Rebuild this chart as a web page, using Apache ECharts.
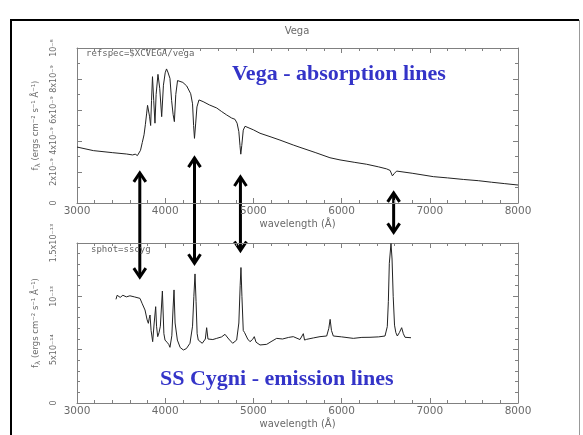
<!DOCTYPE html>
<html>
<head>
<meta charset="utf-8">
<script src="https://cdn.jsdelivr.net/npm/echarts@6/dist/echarts.min.js"></script>
<style>html,body{margin:0;padding:0;background:#fff;}#c{width:583px;height:435px;}</style>
</head>
<body>
<div id="c"></div>
<script>
// ---------- DATA ----------
// Vega spectrum: wavelength (Å) and flux in units of 1e-9 erg cm^-2 s^-1 Å^-1
var vegaWave = [3000,3185,3400,3563,3630,3660,3685,3700,3720,3740,3760,3775,3790,3800,3809,3822,3835,3845,3856,3870,3884,3897,3918,3938,3960,3980,4000,4015,4030,4054,4073,4090,4104,4120,4140,4160,4200,4244,4289,4310,4322,4332,4345,4360,4383,4430,4500,4584,4640,4697,4754,4791,4815,4835,4848,4857,4868,4885,4905,5000,5075,5200,5301,5452,5528,5700,5868,5982,6150,6284,6420,6511,6550,6576,6600,6624,6800,7040,7200,7380,7550,7700,7850,8000];
var vegaFlux = [3.61,3.38,3.25,3.16,3.10,3.15,3.06,3.10,3.40,3.90,4.40,5.05,5.80,6.30,6.40,5.60,5.00,6.60,8.15,6.60,5.15,7.00,8.30,7.40,5.57,7.60,8.40,8.65,8.45,8.04,6.60,5.70,5.25,7.00,7.90,7.94,7.78,7.55,7.05,6.40,5.00,4.17,5.10,6.20,6.65,6.54,6.33,6.13,5.90,5.68,5.48,5.40,5.15,4.60,3.70,3.15,3.70,4.70,4.95,4.72,4.50,4.26,4.06,3.74,3.59,3.26,2.92,2.78,2.62,2.50,2.33,2.20,2.10,1.75,1.92,2.06,1.92,1.70,1.62,1.52,1.44,1.34,1.25,1.16];

// SS Cygni spectrum: wavelength (Å) and flux in units of 1e-14 erg cm^-2 s^-1 Å^-1
var cygWave = [3442,3455,3468,3490,3520,3560,3600,3650,3714,3740,3771,3795,3809,3818,3828,3840,3858,3875,3892,3902,3915,3930,3945,3968,3985,3998,4020,4040,4054,4075,4090,4100,4112,4138,4170,4206,4240,4281,4310,4325,4338,4350,4362,4375,4420,4455,4470,4485,4500,4540,4584,4640,4678,4720,4765,4810,4835,4850,4859,4870,4885,4900,4915,4935,4961,4990,5010,5030,5075,5151,5200,5264,5330,5400,5452,5528,5566,5580,5604,5680,5755,5831,5855,5870,5885,5906,6000,6133,6230,6322,6420,6492,6518,6530,6541,6560,6572,6585,6600,6615,6632,6655,6681,6700,6719,6787];
var cygFlux = [9.72,10.10,10.00,9.90,10.10,9.95,10.05,9.95,9.81,9.30,8.72,7.80,7.47,7.90,8.25,6.80,5.75,7.50,9.03,7.20,6.22,6.60,7.20,10.50,6.50,5.90,5.70,5.50,5.22,6.30,9.00,10.60,7.50,5.90,5.20,4.97,5.10,5.60,7.20,10.00,12.10,9.50,6.50,5.90,5.60,6.00,7.06,6.00,5.90,5.95,6.06,6.20,6.44,6.00,5.60,5.90,7.50,11.00,12.70,10.00,6.80,6.60,6.70,6.00,5.75,5.95,6.22,5.70,5.44,5.50,5.75,6.06,6.00,6.15,6.22,5.95,6.50,5.90,5.97,6.10,6.22,6.28,7.00,7.84,6.80,6.28,6.20,6.06,6.15,6.16,6.20,6.28,7.16,9.50,13.10,14.95,13.50,10.00,7.30,6.60,6.28,6.60,7.06,6.50,6.16,6.12];

// axis ticks / labels
var xTickValues = [3000,4000,5000,6000,7000,8000];
var xTickLabels = ['3000','4000','5000','6000','7000','8000'];
var vegaTickValues = [0,2,4,6,8,10];
var vegaTickLabels = ['0','2x10\u207B\u2079','4x10\u207B\u2079','6x10\u207B\u2079','8x10\u207B\u2079','10\u207B\u2078'];
var cygTickValues = [0,5,10,15];
var cygTickLabels = ['0','5x10\u207B\u00B9\u2074','10\u207B\u00B9\u00B3','1.5x10\u207B\u00B9\u00B3'];

// double-headed arrows linking the lines: wavelength, top end (Vega units), bottom end (SS Cyg units)
var arrowWave = [3712, 4332, 4853, 6590];
var arrowTopVega = [1.94, 2.90, 1.68, 0.65];
var arrowBottomCyg = [11.8, 13.1, 14.3, 16.0];

// ---------- CHART ----------
function zip(a, b) { var r = []; for (var i = 0; i < a.length; i++) r.push([a[i], b[i]]); return r; }
var AX = '#808080', LAB = '#6a6a6a';

function xAxis(gi, pos, labels) {
  return {
    type: 'value', gridIndex: gi, position: pos, min: 3000, max: 8000, interval: 1000,
    axisLine: { show: true, onZero: false, lineStyle: { color: AX, width: 1 } },
    axisTick: { show: true, inside: true, length: 5, lineStyle: { color: AX } },
    minorTick: { show: true, splitNumber: 5, length: 3, lineStyle: { color: AX } },
    splitLine: { show: false },
    axisLabel: { show: labels, margin: 3, color: LAB, fontFamily: 'DejaVu Sans', fontSize: 10.5,
      formatter: function (v) { var i = xTickValues.indexOf(Math.round(v)); return i < 0 ? '' : xTickLabels[i]; } },
    name: labels ? 'wavelength (\u00C5)' : '', nameLocation: 'middle', nameGap: 16,
    nameTextStyle: { color: LAB, fontFamily: 'DejaVu Sans', fontSize: 10 }
  };
}
function yAxis(gi, pos, labels, max, interval, minorSplit, vals, labs) {
  return {
    type: 'value', gridIndex: gi, position: pos, min: 0, max: max, interval: interval,
    axisLine: { show: true, onZero: false, lineStyle: { color: AX, width: 1 } },
    axisTick: { show: true, inside: true, length: 5, lineStyle: { color: AX } },
    minorTick: { show: true, splitNumber: minorSplit, length: 3, lineStyle: { color: AX } },
    splitLine: { show: false },
    axisLabel: { show: labels, rotate: 90, margin: 19, color: LAB, fontFamily: 'DejaVu Sans', fontSize: 8,
      formatter: function (v) { var i = vals.indexOf(Math.round(v * 1000) / 1000); return i < 0 ? '' : labs[i]; } },
    name: labels ? 'f{s|\u03BB} (ergs cm\u207B\u00B2 s\u207B\u00B9 \u00C5\u207B\u00B9)' : '',
    nameLocation: 'middle', nameGap: 27,
    nameTextStyle: { color: LAB, fontFamily: 'DejaVu Sans', fontSize: 8.5,
      rich: { s: { fontSize: 7, color: LAB, fontFamily: 'DejaVu Sans', padding: [6, 0, 0, 0] } } }
  };
}

var chart = echarts.init(document.getElementById('c'), null, { renderer: 'canvas' });
var option = {
  animation: false,
  backgroundColor: '#ffffff',
  title: [
    { text: 'Vega', left: 297, top: 26, textAlign: 'center', padding: 0,
      textStyle: { color: LAB, fontFamily: 'DejaVu Sans', fontSize: 10, fontWeight: 'normal' } },
    { text: 'refspec=$XCVEGA/vega', left: 86, top: 49, padding: 0,
      textStyle: { color: '#666', fontFamily: 'DejaVu Sans Mono', fontSize: 9, fontWeight: 'normal' } },
    { text: 'sphot=sscyg', left: 91, top: 245, padding: 0,
      textStyle: { color: '#666', fontFamily: 'DejaVu Sans Mono', fontSize: 9, fontWeight: 'normal' } },
    { text: 'Vega - absorption lines', left: 232, top: 63, padding: 0,
      textStyle: { color: '#3434c8', fontFamily: 'Liberation Serif', fontSize: 22, fontWeight: 'bold' } },
    { text: 'SS Cygni - emission lines', left: 160, top: 368, padding: 0,
      textStyle: { color: '#3434c8', fontFamily: 'Liberation Serif', fontSize: 22, fontWeight: 'bold' } }
  ],
  grid: [
    { left: 77, top: 48, width: 441, height: 155, containLabel: false },
    { left: 77, top: 243, width: 441, height: 160, containLabel: false }
  ],
  xAxis: [ xAxis(0, 'bottom', true), xAxis(0, 'top', false), xAxis(1, 'bottom', true), xAxis(1, 'top', false) ],
  yAxis: [
    yAxis(0, 'left', true, 10, 2, 2, vegaTickValues, vegaTickLabels),
    yAxis(0, 'right', false, 10, 2, 2, vegaTickValues, vegaTickLabels),
    yAxis(1, 'left', true, 15, 5, 5, cygTickValues, cygTickLabels),
    yAxis(1, 'right', false, 15, 5, 5, cygTickValues, cygTickLabels)
  ],
  series: [
    { type: 'line', xAxisIndex: 0, yAxisIndex: 0, data: zip(vegaWave, vegaFlux), showSymbol: false, symbol: 'none',
      lineStyle: { color: '#222', width: 1 }, clip: true },
    { type: 'line', xAxisIndex: 2, yAxisIndex: 2, data: zip(cygWave, cygFlux), showSymbol: false, symbol: 'none',
      lineStyle: { color: '#222', width: 1 }, clip: true }
  ]
};
chart.setOption(option);

// arrows positioned through the axes' own scales
var g = [];
// slide frame
g.push({ type: 'line', shape: { x1: 11, y1: 20, x2: 11, y2: 435 }, style: { stroke: '#000', lineWidth: 2 } });
g.push({ type: 'line', shape: { x1: 10, y1: 20, x2: 579, y2: 20 }, style: { stroke: '#000', lineWidth: 2 } });
g.push({ type: 'line', shape: { x1: 579.5, y1: 20, x2: 579.5, y2: 435 }, style: { stroke: '#999', lineWidth: 1 } });
for (var i = 0; i < arrowWave.length; i++) {
  var p1 = chart.convertToPixel({ xAxisIndex: 0, yAxisIndex: 0 }, [arrowWave[i], arrowTopVega[i]]);
  var p2 = chart.convertToPixel({ xAxisIndex: 2, yAxisIndex: 2 }, [arrowWave[i], arrowBottomCyg[i]]);
  var x = p1[0];
  var st = { stroke: '#000', lineWidth: 3, fill: null, lineJoin: 'miter' };
  g.push({ type: 'line', shape: { x1: x, y1: p1[1] + 1, x2: x, y2: p2[1] - 1 }, style: st });
  g.push({ type: 'polyline', shape: { points: [[x - 6, p1[1] + 9], [x, p1[1]], [x + 6, p1[1] + 9]] }, style: st });
  g.push({ type: 'polyline', shape: { points: [[x - 6, p2[1] - 9], [x, p2[1]], [x + 6, p2[1] - 9]] }, style: st });
}
chart.setOption({ graphic: g });
</script>
</body>
</html>
